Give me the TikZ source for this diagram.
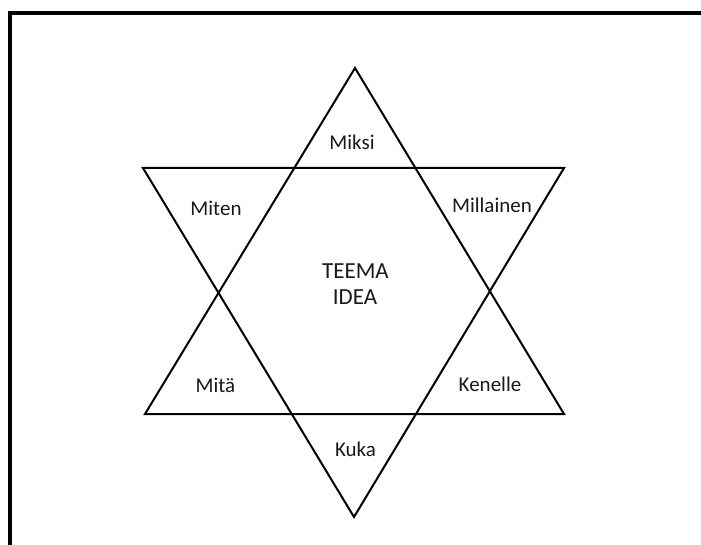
\documentclass[tikz,border=0pt]{standalone}
\usepackage{fontspec}
\setmainfont{Carlito}
\begin{document}
\begin{tikzpicture}[x=1pt,y=-1pt,
  lbl/.style={font=\fontsize{21}{25}\selectfont, text=black!90, inner sep=0pt, anchor=base},
  biglbl/.style={lbl, font=\fontsize{23}{27}\selectfont},
  starline/.style={line width=2pt, line join=miter},
  frameline/.style={line width=4pt}]
\useasboundingbox (0,0) rectangle (701,545);
\fill[white] (0,0) rectangle (701,545);
% frame (top and left only)
\coordinate (fb) at (9.5,545);
\coordinate (fc) at (9.5,13);
\coordinate (fr) at (701,13);
\draw[frameline] (fb) -- (fc) -- (fr);
% upward triangle
\coordinate (u1) at (355,68);
\coordinate (u2) at (145,414);
\coordinate (u3) at (564,414);
% downward triangle
\coordinate (d1) at (143,168);
\coordinate (d2) at (564,168);
\coordinate (d3) at (354,517);
\draw[starline] (u1) -- (u2) -- (u3) -- cycle;
\draw[starline] (d1) -- (d2) -- (d3) -- cycle;
% labels
\node[lbl] (miksi) at (352,150) {Miksi};
\node[lbl] (miten) at (216,215.5) {Miten};
\node[lbl] (millainen) at (492,213) {Millainen};
\node[lbl] (mita) at (215.5,392) {Mitä};
\node[lbl] (kenelle) at (490,391.5) {Kenelle};
\node[lbl] (kuka) at (355.5,456) {Kuka};
\node[biglbl] (teema) at (355.5,278) {TEEMA};
\node[biglbl] (idea) at (355,305) {IDEA};
\end{tikzpicture}
\end{document}
